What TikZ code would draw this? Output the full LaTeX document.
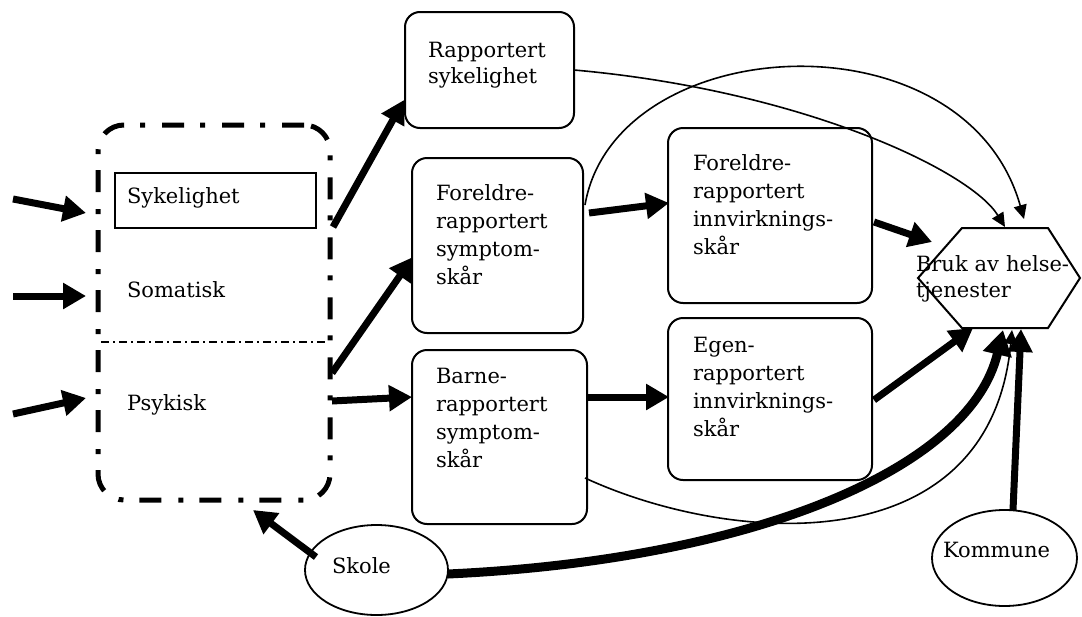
\documentclass[tikz,border=0pt]{standalone}
\usepackage{fontspec}
\setmainfont{DejaVu Serif}
\usetikzlibrary{arrows.meta,shapes.geometric}
\begin{document}
\begin{tikzpicture}[x=1pt,y=-1pt,
  every node/.style={inner sep=0pt, outer sep=0pt},
  txt/.style={font=\fontsize{21}{28}\selectfont, anchor=base west, align=left, text width=200pt},
  rbox/.style={draw, line width=2pt, rounded corners=15pt},
  oval/.style={draw, ellipse, line width=1.8pt},
  fat/.style={line width=7pt, -{Triangle[length=23pt,width=25pt]}},
  thin/.style={line width=1.6pt, -{Triangle[length=14pt,width=13pt]}},
]
\useasboundingbox (0,0) rectangle (1082,616);

% dash-dotted group box
\node[draw, line width=5pt, rounded corners=26pt,
      dash pattern=on 22pt off 17pt on 5pt off 16pt,
      minimum width=232pt, minimum height=375pt] (dbox) at (214,312.5) {};
\draw[line width=1.5pt, dash pattern=on 8pt off 4pt on 2pt off 4pt] (101,342) -- (327,342);
\node[draw, line width=1.8pt, minimum width=201pt, minimum height=55pt] (syk) at (215.5,200.5) {};
\node[txt] (tsyk) at (127,203) {Sykelighet};
\node[txt] (tsom) at (127,297) {Somatisk};
\node[txt] (tpsy) at (127,410) {Psykisk};

% boxes
\node[rbox, minimum width=169pt, minimum height=116pt] (rs) at (489.5,70) {};
\node[rbox, minimum width=171pt, minimum height=175pt] (fs) at (497.5,245.5) {};
\node[rbox, minimum width=175pt, minimum height=174pt] (bs) at (499.5,437) {};
\node[rbox, minimum width=204pt, minimum height=175pt] (fi) at (770,215.5) {};
\node[rbox, minimum width=204pt, minimum height=162pt] (ei) at (770,399) {};

\node[txt, font=\fontsize{21}{26}\selectfont] (trs) at (428,57) {Rapportert\\sykelighet};
\node[txt] (tfs) at (436,200) {Foreldre-\\rapportert\\symptom-\\skår};
\node[txt] (tbs) at (436,383) {Barne-\\rapportert\\symptom-\\skår};
\node[txt] (tfi) at (693,170) {Foreldre-\\rapportert\\innvirknings-\\skår};
\node[txt] (tei) at (693,352) {Egen-\\rapportert\\innvirknings-\\skår};

% hexagon
\coordinate (hex) at (1000,278);
\draw[line width=2pt] (918,278) -- (962,228) -- (1048,228) -- (1080,278) -- (1048,328) -- (962,328) -- cycle;
\node[txt, font=\fontsize{21}{26}\selectfont] (thex) at (916,271) {Bruk av helse-\\tjenester};

% ellipses
\node[oval, minimum width=143pt, minimum height=90pt] (skole) at (376.5,570) {};
\node[txt] (tskole) at (332,573) {Skole};
\node[oval, minimum width=145pt, minimum height=96pt] (kom) at (1004.5,558) {};
\node[txt] (tkom) at (943,557) {Kommune};

% connector end points
\coordinate (in1s) at (13,199);  \coordinate (in1e) at (86,213);
\coordinate (in2s) at (13,296);  \coordinate (in2e) at (86,296);
\coordinate (in3s) at (13,414);  \coordinate (in3e) at (86,398);
\coordinate (d1) at (333,227);   \coordinate (rsin) at (404,100);
\coordinate (d2) at (332,373);   \coordinate (fsin) at (413,257);
\coordinate (d3) at (332,401);   \coordinate (bsin) at (412,397);
\coordinate (fsout) at (589,213); \coordinate (fiin) at (669,203);
\coordinate (bsout) at (588,397); \coordinate (eiin) at (669,397);
\coordinate (fiout) at (874,222); \coordinate (hA) at (932,242);
\coordinate (eiout) at (874,400); \coordinate (hB) at (973,328);
\coordinate (rsout) at (574,70);  \coordinate (hT1) at (1005,227);
\coordinate (fsup) at (585,205);  \coordinate (hT2) at (1024,219);
\coordinate (bslow) at (585,478); \coordinate (hC) at (1012,330);
\coordinate (skr) at (448,574);   \coordinate (hD) at (1003,330);
\coordinate (kup) at (1013,510);  \coordinate (hE) at (1021,329);
\coordinate (skl) at (316,557);   \coordinate (dbin) at (253,510);

% connectors
\draw[fat] (in1s) -- (in1e);
\draw[fat] (in2s) -- (in2e);
\draw[fat] (in3s) -- (in3e);
\draw[fat] (d1) -- (rsin);
\draw[fat] (d2) -- (fsin);
\draw[fat] (d3) -- (bsin);
\draw[fat] (fsout) -- (fiin);
\draw[fat] (bsout) -- (eiin);
\draw[fat] (fiout) -- (hA);
\draw[fat] (eiout) -- (hB);
\draw[fat] (skl) -- (dbin);
\draw[thin] (rsout) .. controls (800,90) and (970,170) .. (hT1);
\draw[thin] (fsup) .. controls (615,30) and (965,10) .. (hT2);
\draw[thin] (bslow) .. controls (730,545) and (990,565) .. (hC);
\draw[line width=9pt, -{Triangle[length=25pt,width=28pt]}] (skr) .. controls (750,560) and (970,470) .. (hD);
\draw[line width=7pt, -{Triangle[length=23pt,width=24pt]}] (kup) -- (hE);
\end{tikzpicture}
\end{document}
